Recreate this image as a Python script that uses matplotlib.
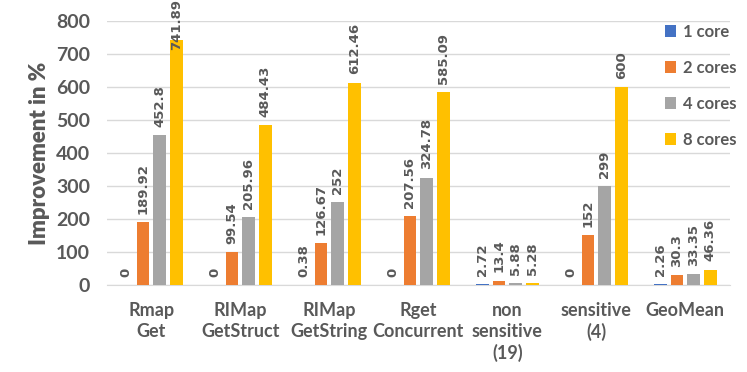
import numpy as np
import matplotlib.pyplot as plt

categories = ['Rmap\nGet', 'RIMap\nGetStruct', 'RIMap\nGetString', 'Rget\nConcurrent',
              'non\nsensitive\n(19)', 'sensitive\n(4)', 'GeoMean']
series_names = ['1 core', '2 cores', '4 cores', '8 cores']
core1 = [0, 0, 0.38, 0, 2.72, 0, 2.26]
core2 = [189.92, 99.54, 126.67, 207.56, 13.4, 152, 30.3]
core4 = [452.8, 205.96, 252, 324.78, 5.88, 299, 33.35]
core8 = [741.89, 484.43, 612.46, 585.09, 5.28, 600, 46.36]
colors = ['#4472C4', '#ED7D31', '#A5A5A5', '#FFC000']

grey = '#595959'
plt.rcParams['font.family'] = ['Lato', 'DejaVu Sans']

fig = plt.figure(figsize=(7.47, 3.72), dpi=100)
ax = fig.add_axes([0.143, 0.234, 0.834, 0.71])

x = np.arange(len(categories))
step = 0.187
width = 0.143
all_series = [core1, core2, core4, core8]
for i, vals in enumerate(all_series):
    pos = x + (i - 1.5) * step
    ax.bar(pos, vals, width, color=colors[i], label=series_names[i], zorder=3)
    for p, v in zip(pos, vals):
        txt = '%g' % v
        ypos = min(v + 25, 712)
        ax.text(p, ypos, txt, rotation=90, ha='center', va='bottom',
                fontsize=9.5, fontweight='bold', color=grey, family='DejaVu Sans',
                zorder=4, clip_on=False)

ax.set_xlim(-0.5, len(categories) - 0.5)
ax.set_ylim(0, 800)
ax.set_yticks(range(0, 801, 100))
ax.set_xticks(x)
ax.set_xticklabels(categories, fontsize=13, fontweight='bold', color=grey,
                   linespacing=1.3)
ax.tick_params(axis='y', labelsize=14, labelcolor=grey, length=0, pad=12)
ax.tick_params(axis='x', length=0, pad=12)
for lab in ax.get_yticklabels():
    lab.set_fontweight('bold')
ax.grid(axis='y', color='#D9D9D9', linewidth=1, zorder=0)
for s in ['top', 'right', 'left']:
    ax.spines[s].set_visible(False)
ax.spines['bottom'].set_color('#D9D9D9')
ax.set_ylabel('Improvement in %', fontsize=16, fontweight='heavy', color=grey, labelpad=4)

leg = ax.legend(loc='upper right', bbox_to_anchor=(1.035, 1.045), frameon=False,
                handlelength=0.7, handleheight=0.7, handletextpad=0.4,
                labelspacing=1.2, prop={'size': 12, 'weight': 'bold'})
for t in leg.get_texts():
    t.set_color(grey)

fig.savefig('out.png', dpi=100)
